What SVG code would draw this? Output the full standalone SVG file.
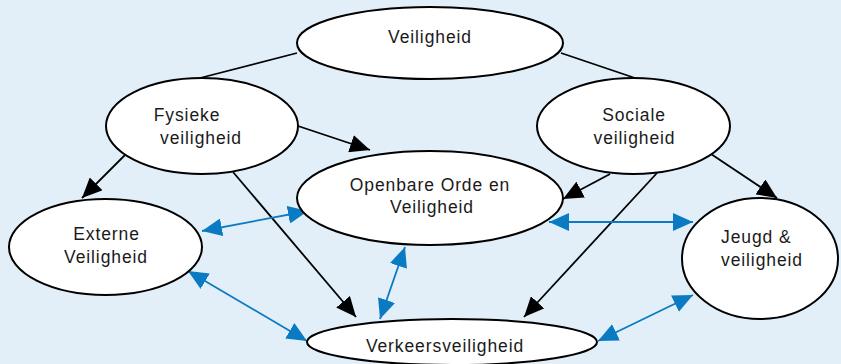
<svg xmlns="http://www.w3.org/2000/svg" width="841" height="364" viewBox="0 0 841 364">
<style>
.node ellipse{fill:#fff;stroke:#000;stroke-width:2}
.node text{font-family:"Liberation Sans",Arial,sans-serif;font-size:17.5px;letter-spacing:0.9px;fill:#1a1a1a;text-anchor:middle}
.node text.l{text-anchor:start}
.plain{stroke:#000;stroke-width:1.8;fill:none}
.blk{stroke:#000;stroke-width:1.8;fill:none;marker-end:url(#ah)}
.blu{stroke:#0a7bc2;stroke-width:1.8;fill:none;marker-start:url(#bh);marker-end:url(#bh)}
</style>
<defs>
<marker id="ah" markerUnits="userSpaceOnUse" markerWidth="20" markerHeight="18" refX="20" refY="9" orient="auto"><path d="M0,0 L20,9 L0,18 z" fill="#000"/></marker>
<marker id="bh" markerUnits="userSpaceOnUse" markerWidth="20" markerHeight="18" refX="20" refY="9" orient="auto-start-reverse"><path d="M0,0 L20,9 L0,18 z" fill="#0a7bc2"/></marker>
<clipPath id="clipV"><rect x="0" y="0" width="841" height="356"/></clipPath>
</defs>
<rect width="841" height="364" fill="#e2eff8"/>
<g id="connectors">
<line class="plain" x1="297" y1="53" x2="200" y2="78"/>
<line class="plain" x1="561" y1="53" x2="635" y2="78"/>
<line class="blk" x1="130" y1="150" x2="82" y2="198"/>
<line class="blk" x1="298" y1="126" x2="370" y2="150"/>
<line class="blk" x1="233" y1="172" x2="356" y2="317"/>
<line class="blk" x1="610" y1="174" x2="563" y2="199"/>
<line class="blk" x1="657" y1="173" x2="524" y2="317"/>
<line class="blk" x1="705" y1="150" x2="777" y2="198"/>
<line class="blu" x1="202" y1="231" x2="308" y2="211"/>
<line class="blu" x1="380" y1="319" x2="405" y2="247"/>
<line class="blu" x1="188" y1="271" x2="307" y2="341"/>
<line class="blu" x1="549" y1="222" x2="693" y2="222"/>
<line class="blu" x1="598" y1="341" x2="693" y2="295"/>
</g>
<g id="veiligheid" class="node">
<ellipse cx="430" cy="43" rx="133" ry="36"/>
<text x="430" y="43">Veiligheid</text>
</g>
<g id="fysieke" class="node">
<ellipse cx="202" cy="126" rx="96" ry="48"/>
<text x="187" y="121">Fysieke</text>
<text x="201" y="144">veiligheid</text>
</g>
<g id="sociale" class="node">
<ellipse cx="633.5" cy="126" rx="96.5" ry="48"/>
<text x="634" y="121">Sociale</text>
<text x="634.5" y="144">veiligheid</text>
</g>
<g id="openbare" class="node">
<ellipse cx="430" cy="198" rx="133" ry="47"/>
<text x="430" y="191">Openbare Orde en</text>
<text x="432" y="213">Veiligheid</text>
</g>
<g id="externe" class="node">
<ellipse cx="105.5" cy="247" rx="96.5" ry="48"/>
<text x="106.5" y="240">Externe</text>
<text x="106" y="263">Veiligheid</text>
</g>
<g id="jeugd" class="node">
<ellipse cx="760" cy="258.5" rx="78" ry="60.5"/>
<text class="l" x="721" y="243">Jeugd &amp;</text>
<text class="l" x="721" y="266">veiligheid</text>
</g>
<g id="verkeers" class="node">
<ellipse cx="452" cy="342" rx="145" ry="23"/>
<text x="445" y="352" clip-path="url(#clipV)">Verkeersveiligheid</text>
</g>
</svg>
